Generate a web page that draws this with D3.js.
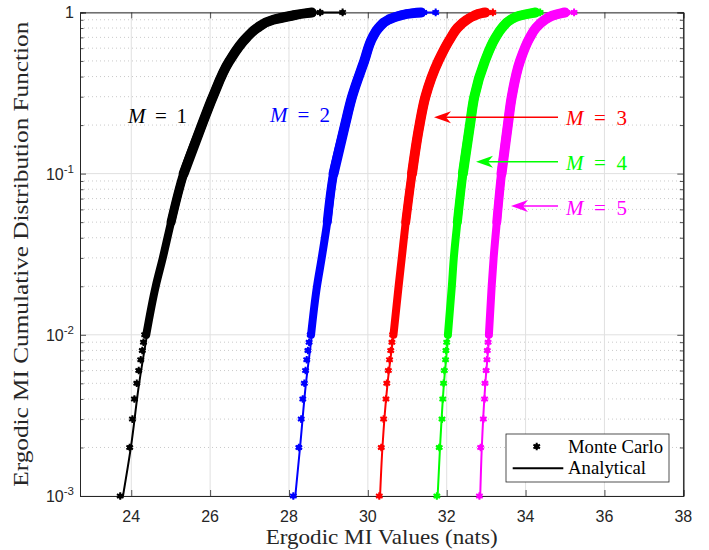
<!DOCTYPE html>
<html><head><meta charset="utf-8">
<script src="https://cdn.jsdelivr.net/npm/d3@7"></script>
<style>body{margin:0;background:#fff;} svg{display:block}</style>
</head><body><svg id="c" width="709" height="550"></svg>
<script>
// ---- data ----
const xTicks = [24, 26, 28, 30, 32, 34, 36, 38];
const yTicks = [0.001, 0.01, 0.1, 1];
const seriesLabels = ["1", "2", "3", "4", "5"];
const seriesColors = ["#000000", "#0000ff", "#ff0000", "#00ff00", "#ff00ff"];

// Monte Carlo low tail (individual samples)
const tailLevels = [0.001, 0.002, 0.003, 0.004, 0.005, 0.006, 0.007, 0.008, 0.009, 0.01];
const mcTailM1 = [23.72, 23.96, 24.03, 24.08, 24.14, 24.19, 24.24, 24.28, 24.31, 24.34];
const mcTailM2 = [28.11, 28.25, 28.31, 28.35, 28.39, 28.42, 28.45, 28.48, 28.51, 28.54];
const mcTailM3 = [30.29, 30.34, 30.40, 30.46, 30.48, 30.52, 30.55, 30.58, 30.61, 30.63];
const mcTailM4 = [31.75, 31.81, 31.88, 31.90, 31.92, 31.94, 31.97, 31.98, 32.00, 32.03];
const mcTailM5 = [32.83, 32.86, 32.93, 32.96, 32.97, 33.00, 33.02, 33.03, 33.05, 33.07];

// Dense body of the distributions
const bodyLevels = [0.01, 0.02, 0.03, 0.05, 0.1, 0.2, 0.3, 0.5, 0.7, 0.8, 0.9, 0.95, 0.99];
const bodyM1 = [24.38, 24.62, 24.80, 25.01, 25.33, 25.79, 26.07, 26.49, 26.93, 27.19, 27.60, 28.03, 28.45];
const bodyM2 = [28.56, 28.71, 28.83, 28.97, 29.13, 29.42, 29.60, 29.91, 30.12, 30.27, 30.52, 30.78, 31.16];
const bodyM3 = [30.65, 30.78, 30.86, 30.96, 31.12, 31.31, 31.46, 31.79, 32.11, 32.27, 32.51, 32.68, 32.89];
const bodyM4 = [32.03, 32.13, 32.18, 32.27, 32.41, 32.59, 32.70, 32.97, 33.24, 33.40, 33.62, 33.82, 34.16];
const bodyM5 = [33.07, 33.14, 33.19, 33.27, 33.39, 33.55, 33.65, 33.86, 34.11, 34.26, 34.49, 34.66, 34.92];

// Upper tail (largest samples)
const topLevels = [0.998, 0.999, 1];
const topM1 = [28.58, 28.79, 29.36];
const topM2 = [31.35, 31.42, 31.72];
const topM3 = [32.98, 33.04, 33.17];
const topM4 = [34.25, 34.30, 34.37];
const topM5 = [35.00, 35.05, 35.23];

// Analytical curve, low tail
const anaTailLevels = [0.001, 0.002, 0.005, 0.01];
const anaTailM1 = [23.79, 23.99, 24.20, 24.40];
const anaTailM2 = [28.16, 28.28, 28.43, 28.58];
const anaTailM3 = [30.31, 30.37, 30.50, 30.65];
const anaTailM4 = [31.77, 31.83, 31.93, 32.04];
const anaTailM5 = [32.85, 32.89, 32.98, 33.08];

const mcTails = [mcTailM1, mcTailM2, mcTailM3, mcTailM4, mcTailM5];
const bodies = [bodyM1, bodyM2, bodyM3, bodyM4, bodyM5];
const tops = [topM1, topM2, topM3, topM4, topM5];
const anaTails = [anaTailM1, anaTailM2, anaTailM3, anaTailM4, anaTailM5];

// ---- layout ----
const L = 80, R = 683.3, T = 12.4, B = 496;
const svg = d3.select("#c");
const x = d3.scaleLinear().domain([22.7, 38]).range([L, R]);
const y = d3.scaleLog().domain([0.001, 1]).range([B, T]);
const axisCol = "#262626";
const sans = "'Liberation Sans', Arial, sans-serif";
const serif = "'Liberation Serif', 'DejaVu Serif', serif";

// grid
const g = svg.append("g");
const minor = [];
for (let d = -3; d < 0; d++) for (let k = 2; k <= 9; k++) minor.push(k * Math.pow(10, d));
g.selectAll(".mg").data(minor).join("line")
  .attr("x1", L).attr("x2", R).attr("y1", d => y(d)).attr("y2", d => y(d))
  .attr("stroke", "#bdbdbd").attr("stroke-width", 0.8).attr("stroke-dasharray", "1,3");
g.selectAll(".gy").data(yTicks).join("line")
  .attr("x1", L).attr("x2", R).attr("y1", d => y(d)).attr("y2", d => y(d))
  .attr("stroke", "#e0e0e0").attr("stroke-width", 1);
g.selectAll(".gx").data(xTicks).join("line")
  .attr("x1", d => x(d)).attr("x2", d => x(d)).attr("y1", T).attr("y2", B)
  .attr("stroke", "#e0e0e0").attr("stroke-width", 1);

// axes with inner ticks
const axB = d3.axisBottom(x).tickValues(xTicks).tickSize(-6).tickFormat("");
const axT = d3.axisTop(x).tickValues(xTicks).tickSize(-6).tickFormat("");
const axLmaj = d3.axisLeft(y).tickValues(yTicks).tickSize(-6).tickFormat("");
const axRmaj = d3.axisRight(y).tickValues(yTicks).tickSize(-6).tickFormat("");
const axLmin = d3.axisLeft(y).tickValues(minor).tickSize(-3.5).tickFormat("");
const axRmin = d3.axisRight(y).tickValues(minor).tickSize(-3.5).tickFormat("");
function styleAxis(sel) {
  sel.selectAll("path").attr("stroke", axisCol).attr("stroke-width", 1);
  sel.selectAll("line").attr("stroke", axisCol).attr("stroke-width", 0.8);
}
svg.append("g").attr("transform", `translate(0,${B})`).call(axB).call(styleAxis);
svg.append("g").attr("transform", `translate(0,${T})`).call(axT).call(styleAxis);
svg.append("g").attr("transform", `translate(${L},0)`).call(axLmaj).call(styleAxis);
svg.append("g").attr("transform", `translate(${R},0)`).call(axRmaj).call(styleAxis);
svg.append("g").attr("transform", `translate(${L},0)`).call(axLmin).call(styleAxis);
svg.append("g").attr("transform", `translate(${R},0)`).call(axRmin).call(styleAxis);
svg.selectAll(".domain").attr("stroke", axisCol);

// tick labels
svg.append("g").selectAll("text").data(xTicks).join("text")
  .attr("x", d => x(d)).attr("y", 522).attr("text-anchor", "middle")
  .attr("font-family", sans).attr("font-size", 16).attr("fill", axisCol)
  .text(d => d);
const yl = svg.append("g").selectAll("text").data(yTicks).join("text")
  .attr("x", 74).attr("y", d => y(d) + 6).attr("text-anchor", "end")
  .attr("font-family", sans).attr("font-size", 16).attr("fill", axisCol);
yl.each(function(d) {
  const t = d3.select(this);
  const e = Math.round(Math.log10(d));
  if (e === 0) { t.text("1"); return; }
  t.append("tspan").text("10");
  t.append("tspan").attr("dy", -7).attr("font-size", 11.5).text("-" + Math.abs(e));
});

// axis titles
svg.append("text").attr("x", (L + R) / 2).attr("y", 544).attr("text-anchor", "middle")
  .attr("font-family", serif).attr("font-size", 21).attr("fill", axisCol)
  .attr("textLength", 232).attr("lengthAdjust", "spacingAndGlyphs")
  .text("Ergodic MI Values (nats)");
svg.append("text").attr("transform", `translate(28,${(T + B) / 2}) rotate(-90)`)
  .attr("text-anchor", "middle")
  .attr("font-family", serif).attr("font-size", 21).attr("fill", axisCol)
  .attr("textLength", 465).attr("lengthAdjust", "spacingAndGlyphs")
  .text("Ergodic MI Cumulative Distribution Function");

// series
const line = d3.line().x(d => x(d[0])).y(d => y(d[1])).curve(d3.curveMonotoneY);
const sym = d3.symbol().type(d3.symbolAsterisk).size(40);
function marker(sel, col) {
  sel.append("circle").attr("r", 2.6).attr("fill", col);
  sel.append("path").attr("d", sym()).attr("fill", "none").attr("stroke", col).attr("stroke-width", 2);
}
const bandStarts = [0, 3, 4];
const bandWidths = [8, 9, 10];
for (let i = 0; i < 5; i++) {
  const col = seriesColors[i];
  const sg = svg.append("g");
  const bandPts = bodyLevels.map((p, j) => [bodies[i][j], p]).concat([[tops[i][0], topLevels[0]]]);
  // Monte Carlo dense band (samples overlap into a thick trace)
  bandStarts.forEach((s, k) => {
    sg.append("path").attr("d", line(bandPts.slice(s))).attr("fill", "none").attr("stroke", col)
      .attr("stroke-width", bandWidths[k]).attr("stroke-linecap", "round").attr("stroke-linejoin", "round");
  });
  // Monte Carlo individual samples
  const mcPts = tailLevels.map((p, j) => [mcTails[i][j], p])
    .concat(topLevels.map((p, j) => [tops[i][j], p]));
  sg.selectAll("g.m").data(mcPts).join("g")
    .attr("transform", d => `translate(${x(d[0])},${y(d[1])})`)
    .each(function() { marker(d3.select(this), col); });
  // Analytical
  const anaPts = anaTailLevels.map((p, j) => [anaTails[i][j], p])
    .concat(bodyLevels.slice(1).map((p, j) => [bodies[i][j + 1], p]))
    .concat(topLevels.map((p, j) => [tops[i][j], p]));
  sg.append("path").attr("d", line(anaPts)).attr("fill", "none").attr("stroke", col)
    .attr("stroke-width", 2).attr("stroke-linejoin", "round");
}

// annotations
function mLabel(xPos, yBase, idx, width) {
  const t = svg.append("text").attr("x", xPos).attr("y", yBase)
    .attr("font-family", serif).attr("font-size", 21).attr("fill", seriesColors[idx])
    .attr("textLength", width).attr("lengthAdjust", "spacing");
  t.append("tspan").attr("font-style", "italic").text("M");
  t.append("tspan").text(" = " + seriesLabels[idx]);
}
mLabel(128, 122.5, 0, 59);
mLabel(270, 122, 1, 60);
mLabel(566, 125, 2, 61);
mLabel(566, 170, 3, 61);
mLabel(566, 215, 4, 61);

function arrow(x0, x1, yy, col) {
  svg.append("line").attr("x1", x0).attr("x2", x1 + 6).attr("y1", yy).attr("y2", yy)
    .attr("stroke", col).attr("stroke-width", 1.6);
  svg.append("path")
    .attr("d", `M${x1},${yy} L${x1 + 17},${yy - 6} L${x1 + 12},${yy} L${x1 + 17},${yy + 6} Z`)
    .attr("fill", col);
}
arrow(558, 434, 117.3, seriesColors[2]);
arrow(558, 476, 161.7, seriesColors[3]);
arrow(558, 511, 206, seriesColors[4]);

// legend
const lg = svg.append("g");
lg.append("rect").attr("x", 506).attr("y", 434).attr("width", 163).attr("height", 48)
  .attr("fill", "#fff").attr("stroke", axisCol).attr("stroke-width", 0.8);
const lm = lg.append("g").attr("transform", "translate(536.7,446.5)");
marker(lm, "#000");
lg.append("line").attr("x1", 512.7).attr("x2", 563.3).attr("y1", 468.3).attr("y2", 468.3)
  .attr("stroke", "#000").attr("stroke-width", 2);
lg.append("text").attr("x", 568).attr("y", 452.5).attr("font-family", serif).attr("font-size", 18)
  .attr("textLength", 95).attr("lengthAdjust", "spacingAndGlyphs").attr("fill", "#000").text("Monte Carlo");
lg.append("text").attr("x", 568).attr("y", 473.5).attr("font-family", serif).attr("font-size", 18)
  .attr("textLength", 78).attr("lengthAdjust", "spacingAndGlyphs").attr("fill", "#000").text("Analytical");
</script>
</body></html>
